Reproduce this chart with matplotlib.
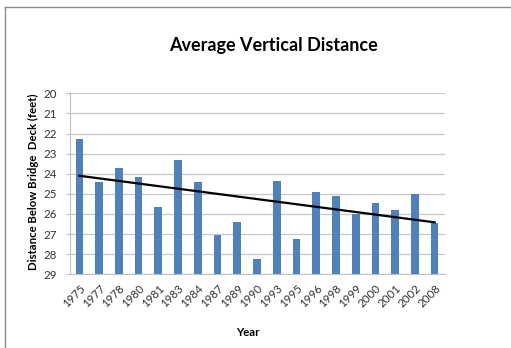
import matplotlib
matplotlib.use("Agg")
import matplotlib.pyplot as plt
import numpy as np
from matplotlib.lines import Line2D

years = ["1975", "1977", "1978", "1980", "1981", "1983", "1984", "1987", "1989", "1990",
         "1993", "1995", "1996", "1998", "1999", "2000", "2001", "2002", "2008"]
distance = [22.27, 24.41, 23.71, 24.18, 25.65, 23.31, 24.41, 27.03, 26.38, 28.25,
            24.38, 27.24, 24.92, 25.09, 26.00, 25.44, 25.80, 25.02, 26.43]
y_ticks = [20, 21, 22, 23, 24, 25, 26, 27, 28, 29]

plt.rcParams['font.family'] = ['Lato', 'DejaVu Sans']

W, H = 511, 348
fig = plt.figure(figsize=(W / 100, H / 100), dpi=100)
fig.patch.set_facecolor('white')

# outer frame (left and top edges)
fig.add_artist(Line2D([4.5 / W, 4.5 / W], [0, 1 - 7 / H], color='#8c8c8c', lw=1.0, transform=fig.transFigure))
fig.add_artist(Line2D([4.5 / W, 1], [1 - 7 / H, 1 - 7 / H], color='#8c8c8c', lw=1.0, transform=fig.transFigure))

ax = fig.add_axes([69.5 / W, 1 - 274.3 / H, 375 / W, 181 / H])
x = np.arange(len(years))
base = 29
ax.bar(x, [v - base for v in distance], bottom=base, width=0.39, color='#4F81BD', zorder=3)

coef = np.polyfit(x, distance, 1)
ax.plot([x[0], x[-1]], np.polyval(coef, [x[0], x[-1]]), color='black', lw=1.6, zorder=4)

ax.set_xlim(-0.5, len(years) - 0.5)
ax.set_ylim(29, 20)
ax.set_yticks(y_ticks)
ax.set_yticklabels([str(t) for t in y_ticks], fontsize=8.3, color='#333333')
ax.set_xticks(x)
ax.set_xticklabels(years, rotation=45, ha='right', rotation_mode='anchor', fontsize=8.3, color='#333333')
ax.tick_params(axis='x', length=0, pad=6)
ax.tick_params(axis='y', length=3, color='#bfbfbf', pad=6)
ax.yaxis.grid(True, color='#c8c8c8', lw=0.9, zorder=0)
for s in ['top', 'right']:
    ax.spines[s].set_visible(False)
ax.spines['left'].set_color('#bfbfbf')
ax.spines['bottom'].set_color('#bfbfbf')

fig.text(273 / W, 1 - 45 / H, 'Average Vertical Distance', ha='center', va='center',
         fontsize=13, fontweight='bold', color='black')
fig.text(33 / W, 1 - 182 / H, 'Distance Below Bridge  Deck (feet)', rotation=90, ha='center', va='center',
         fontsize=8.2, fontweight='bold', color='black')
fig.text(248 / W, 1 - 332 / H, 'Year', ha='center', va='center', fontsize=8.2, fontweight='bold', color='black')

fig.savefig('out.png', dpi=100, facecolor='white')
